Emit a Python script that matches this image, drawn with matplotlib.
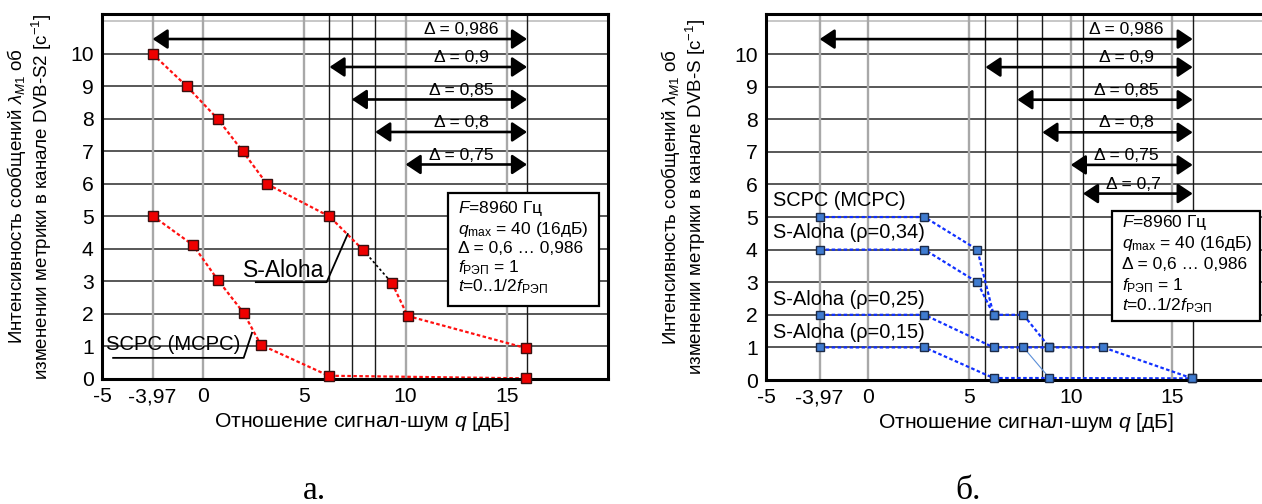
import numpy as np
import matplotlib
matplotlib.use('Agg')
import matplotlib.pyplot as plt
from matplotlib.patches import Rectangle

plt.rcParams['font.family'] = ['Liberation Sans', 'DejaVu Sans']
plt.rcParams['mathtext.fontset'] = 'custom'
plt.rcParams['mathtext.rm'] = 'Liberation Sans'
plt.rcParams['mathtext.it'] = 'Liberation Sans:italic'
plt.rcParams['mathtext.bf'] = 'Liberation Sans:bold'

# ---- panel a (DVB-S2) ----
q_aloha_a = [-2.5, -0.8, 0.72, 1.96, 3.15, 6.24, 7.9, 9.33, 10.1, 15.95]
lam_aloha_a = [10.0, 9.0, 8.0, 7.0, 6.0, 5.0, 3.97, 2.95, 1.94, 0.95]
q_scpc_a = [-2.5, -0.5, 0.72, 2.0, 2.85, 6.2, 15.95]
lam_scpc_a = [5.02, 4.12, 3.05, 2.03, 1.05, 0.1, 0.02]
delta_a = ['0,986', '0,9', '0,85', '0,8', '0,75']
delta_start_a = [-2.5, 6.24, 7.34, 8.5, 10.0]
delta_y_a = [10.46, 9.6, 8.6, 7.6, 6.6]

# ---- panel b (DVB-S) ----
q_scpc_b = [-2.36, 2.8, 5.4, 6.2, 7.67, 8.95, 11.6, 15.97]
lam_scpc_b = [5, 5, 4, 2, 2, 1, 1, 0.05]
q_r34 = [-2.36, 2.8, 5.4, 6.2]
lam_r34 = [4, 4, 3, 2]
q_r25 = [-2.36, 2.8, 6.2, 7.67, 8.95]
lam_r25 = [2, 2, 1, 1, 1]
q_r15 = [-2.36, 2.8, 6.2, 8.95, 15.97]
lam_r15 = [1, 1, 0.06, 0.06, 0.05]
q_thin = [7.67, 8.95]
lam_thin = [1, 0.06]
delta_b = ['0,986', '0,9', '0,85', '0,8', '0,75', '0,7']
delta_start_b = [-2.36, 5.8, 7.37, 8.6, 10.0, 10.6]
delta_y_b = [10.46, 9.6, 8.6, 7.6, 6.6, 5.72]

q_end = 16
box_lines = [r'$F$=8960 Гц', r'$q_{\mathrm{max}}$ = 40 (16дБ)', 'Δ = 0,6 … 0,986',
             r'$f_{\mathrm{РЭП}}$ = 1', r'$t$=0..1/2$f_{\mathrm{РЭП}}$']

fig = plt.figure(figsize=(12.62, 5.04), dpi=100)
W, H = 1262, 504
ax1 = fig.add_axes([102 / W, 1 - 379 / H, 506 / W, 365 / H])
ax2 = fig.add_axes([766 / W, 1 - 380 / H, 508 / W, 366 / H])


def base(ax, x397, starts, ys, labels):
    ax.set_xlim(-5, 20)
    ax.set_ylim(0, 11.23)
    for y in range(1, 11):
        ax.axhline(y, color='#2a2a2a', lw=1.1, zorder=1)
    ax.axhline(11, color='#bdbdbd', lw=1.2, zorder=1)
    for x in [x397, 0, 5, 10, 15]:
        ax.axvline(x, color='#a8a8a8', lw=1.7, zorder=1)
    for x in starts[1:] + [q_end]:
        if x != 10.0:
            ax.axvline(x, color='#1a1a1a', lw=1.0, zorder=1)
    for x0, y, lab in zip(starts, ys, labels):
        ax.annotate('', xy=(q_end, y), xytext=(x0, y),
                    arrowprops=dict(arrowstyle='<|-|>,head_length=0.6,head_width=0.4',
                                    mutation_scale=15, color='black', lw=1.9,
                                    shrinkA=0, shrinkB=0), zorder=4)
        lx = 13.1 if lab == '0,7' else 12.75
        ax.text(lx, y + 0.29, 'Δ = ' + lab, ha='center', va='center', fontsize=12.6, zorder=4)
    ax.set_xticks([-5, x397, 0, 5, 10, 15])
    ax.set_xticklabels(['-5', '-3,97', '0', '5', '10', '15'])
    ax.set_yticks(range(11))
    ax.tick_params(length=0, labelsize=15.2, pad=6)
    for s in ax.spines.values():
        s.set_linewidth(2.2)
        s.set_zorder(6)
    ax.set_xlabel(r'Отношение сигнал-шум $q$ [дБ]', fontsize=15.2)


def info_box(ax, x0, x1, y0, y1, tx, tys):
    ax.add_patch(Rectangle((x0, y0), x1 - x0, y1 - y0, facecolor='white',
                           edgecolor='black', lw=1.6, zorder=7, clip_on=False))
    for t, ty in zip(box_lines, tys):
        ax.text(tx, ty, t, fontsize=12.5, va='center', ha='left', zorder=8)


# panel a
base(ax1, -2.5, delta_start_a, delta_y_a, delta_a)
red = '#ff1010'
ax1.plot(q_aloha_a[:7], lam_aloha_a[:7], ls=(0, (1.6, 1.1)), color=red, lw=1.6, zorder=3)
ax1.plot(q_aloha_a[6:8], lam_aloha_a[6:8], ls=(0, (1.5, 1.5)), color='black', lw=1.2, zorder=3)
ax1.plot(q_aloha_a[7:], lam_aloha_a[7:], ls=(0, (1.6, 1.1)), color=red, lw=1.6, zorder=3)
ax1.plot(q_scpc_a, lam_scpc_a, ls=(0, (1.6, 1.1)), color=red, lw=1.6, zorder=3)
for q, lam in [(q_aloha_a, lam_aloha_a), (q_scpc_a, lam_scpc_a)]:
    ax1.plot(q, lam, ls='none', marker='s', ms=6.5, mfc='#ee0000', mec='#3a1010',
             mew=1.0, zorder=8, clip_on=False)
ax1.text(3.96, 3.35, 'S-Aloha', fontsize=16.5, ha='center', va='center', zorder=5)
ax1.plot([2.6, 6.1, 7.14], [2.98, 2.98, 4.46], color='black', lw=1.3, zorder=5)
ax1.text(-1.47, 1.05, 'SCPC (MCPC)', fontsize=14.6, ha='center', va='center', zorder=5)
ax1.plot([-4.45, 2.0, 2.41], [0.65, 0.65, 1.42], color='black', lw=1.3, zorder=5)
info_box(ax1, 12.1, 19.57, 2.25, 5.72, 12.6, [5.26, 4.6, 4.0, 3.42, 2.83])
ax1.set_ylabel('Интенсивность сообщений $\\lambda_{M1}$ об\n'
               'изменении метрики в канале DVB-S2 [с$^{-1}$]', fontsize=13.5, linespacing=1.1)
ax1.yaxis.set_label_coords(-0.095, 0.5)
ax1.xaxis.set_label_coords(0.514, -0.085)

# panel b
base(ax2, -2.36, delta_start_b, delta_y_b, delta_b)
blue = '#1030ff'
for q, lam in [(q_scpc_b, lam_scpc_b), (q_r34, lam_r34), (q_r25, lam_r25), (q_r15, lam_r15)]:
    ax2.plot(q, lam, ls=(0, (1.6, 1.1)), color=blue, lw=1.6, zorder=3)
ax2.plot(q_thin, lam_thin, color='#5b8fd8', lw=0.8, zorder=3)
for q, lam in [(q_scpc_b, lam_scpc_b), (q_r34, lam_r34), (q_r25, lam_r25), (q_r15, lam_r15)]:
    ax2.plot(q, lam, ls='none', marker='s', ms=5.6, mfc='#3f7bd0', mec='#1b2a48',
             mew=1.0, zorder=8, clip_on=False)
for t, ty in zip(['SCPC (MCPC)', 'S-Aloha (ρ=0,34)', 'S-Aloha (ρ=0,25)', 'S-Aloha (ρ=0,15)'],
                 [5.5, 4.52, 2.46, 1.45]):
    ax2.text(-4.67, ty, t, fontsize=14.4, ha='left', va='center', zorder=5)
info_box(ax2, 12.04, 19.3, 1.82, 5.2, 12.5, [4.83, 4.18, 3.54, 2.89, 2.28])
ax2.set_ylabel('Интенсивность сообщений $\\lambda_{M1}$ об\n'
               'изменении метрики в канале DVB-S [с$^{-1}$]', fontsize=13.5, linespacing=1.1)
ax2.yaxis.set_label_coords(-0.114, 0.5)
ax2.xaxis.set_label_coords(0.512, -0.085)

fig.text(315 / W, 5 / H, 'а.', family='Liberation Serif', fontsize=24, ha='center', va='baseline')
fig.text(968 / W, 5 / H, 'б.', family='Liberation Serif', fontsize=24, ha='center', va='baseline')

fig.savefig('out.png', dpi=100)
